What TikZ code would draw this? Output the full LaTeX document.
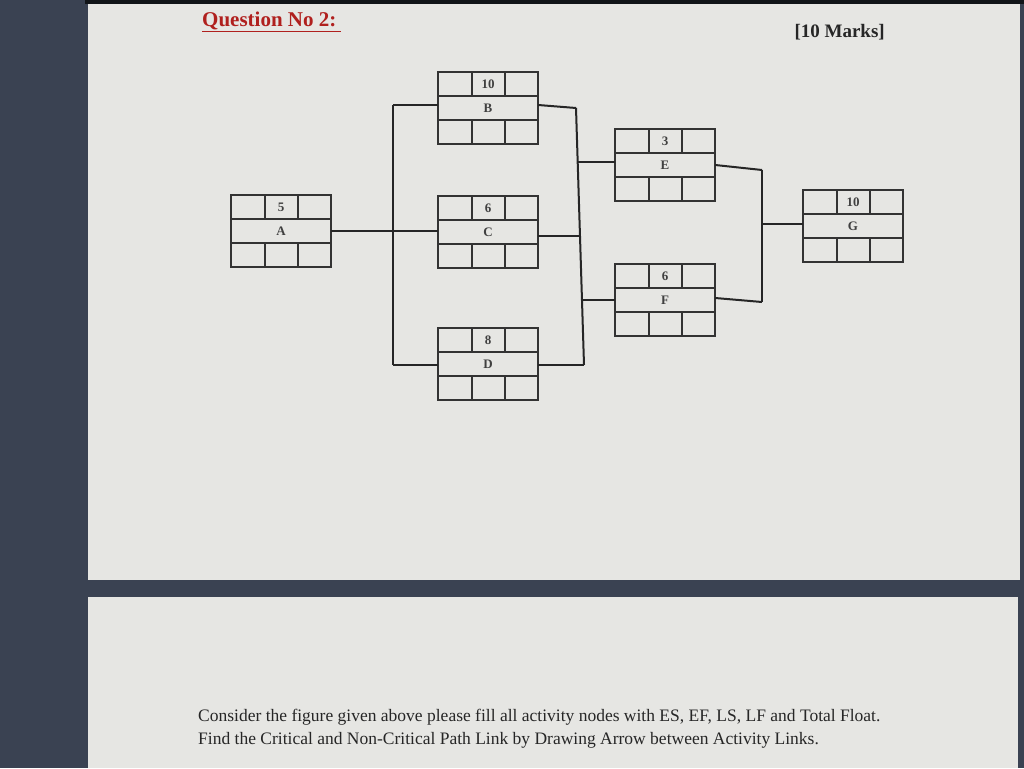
\documentclass[tikz,border=0pt]{standalone}
\usepackage{fontspec}
\setmainfont{Liberation Serif}
\begin{document}
\begin{tikzpicture}[x=1pt,y=-1pt,
  lnk/.style={line width=2pt,color=black!85},
  cellt/.style={font=\bfseries\fontsize{13}{14}\selectfont, text=black!75}]
\definecolor{bgdark}{HTML}{3A4252}
\definecolor{panel}{HTML}{E6E6E3}
\definecolor{qred}{HTML}{B0201E}
\useasboundingbox (0,0) rectangle (1024,768);
\fill[bgdark] (0,0) rectangle (1024,768);
\fill[black!70!bgdark] (85,0) rectangle (1024,4);
\fill[panel] (88,4) rectangle (1020,580);
\fill[panel] (88,597) rectangle (1018,768);
\node[anchor=west,font=\bfseries\fontsize{21}{22}\selectfont,text=qred,inner sep=0pt] (title) at (202,21) {Question No 2:};
\draw[qred,line width=1.6pt] (title.south west) ++(0,1.5) -- ++(139,0);
\node[anchor=west,font=\bfseries\fontsize{19}{21}\selectfont,text=black!85] (marks) at (791,32) {[10 Marks]};
\newcommand{\actbox}[4]{% name, x, y, dur
  \begin{scope}[shift={(#2,#3)}]
  \draw[line width=1.8pt,draw=black!80] (0,0) rectangle (100,72);
  \draw[line width=1.5pt,draw=black!80] (0,24) -- (100,24) (0,48) -- (100,48)
     (34,0) -- (34,24) (67,0) -- (67,24) (34,48) -- (34,72) (67,48) -- (67,72);
  \end{scope}
  \node[cellt] (#1d) at (#2+50,#3+12) {#4};
  \node[cellt,minimum width=100pt,minimum height=24pt,inner sep=0pt] (#1) at (#2+50,#3+36) {#1};}
\actbox{A}{231}{195}{5}
\actbox{B}{438}{72}{10}
\actbox{C}{438}{196}{6}
\actbox{D}{438}{328}{8}
\actbox{E}{615}{129}{3}
\actbox{F}{615}{264}{6}
\actbox{G}{803}{190}{10}
\coordinate (j1t) at (393,105);
\coordinate (j1m) at (393,231);
\coordinate (j1b) at (393,365);
\coordinate (j2t) at (576,108);
\coordinate (j2e) at (578,162);
\coordinate (j2c) at (580,236);
\coordinate (j2f) at (582,300);
\coordinate (j2b) at (584,365);
\coordinate (j3t) at (762,170);
\coordinate (j3g) at (762,224);
\coordinate (j3b) at (762,302);
\draw[lnk] (A.east) -- (j1m);
\draw[lnk] (j1t) -- (j1b);
\draw[lnk] (j1t) -- (B.west |- j1t);
\draw[lnk] (j1m) -- (C.west |- j1m);
\draw[lnk] (j1b) -- (D.west |- j1b);
\draw[lnk] (B.east |- j1t) -- (j2t);
\draw[lnk] (j2t) -- (j2b);
\draw[lnk] (j2e) -- (E.west |- j2e);
\draw[lnk] (C.east |- j2c) -- (j2c);
\draw[lnk] (j2f) -- (F.west |- j2f);
\draw[lnk] (D.east |- j2b) -- (j2b);
\draw[lnk] (E.east |- 0,165) -- (j3t);
\draw[lnk] (j3t) -- (j3b);
\draw[lnk] (F.east |- 0,298) -- (j3b);
\draw[lnk] (j3g) -- (G.west |- j3g);
\node[anchor=west,font=\fontsize{17.5}{23}\selectfont,text=black!85,align=left,inner sep=0pt] (txt) at (198,729)
 {Consider the figure given above please fill all activity nodes with ES, EF, LS, LF and Total Float.\\
 Find the Critical and Non-Critical Path Link by Drawing Arrow between Activity Links.};
\end{tikzpicture}
\end{document}
